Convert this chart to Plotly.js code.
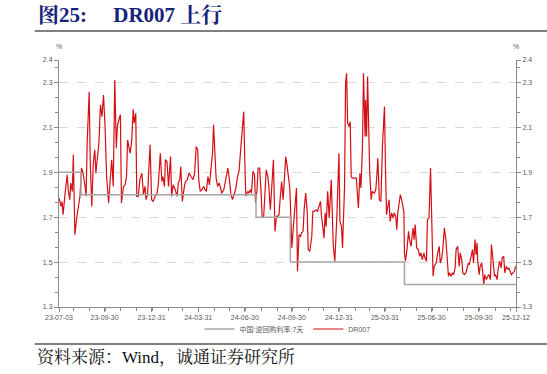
<!DOCTYPE html>
<html><head><meta charset="utf-8">
<script src="https://cdn.plot.ly/plotly-3.0.1.min.js"></script>
<style>html,body{margin:0;padding:0;background:#fff;}#chart{width:547px;height:374px;}</style>
</head><body><div id="chart"></div>
<script>
const drDates = [
"2023-07-03","2023-07-07","2023-07-09","2023-07-11","2023-07-15","2023-07-19","2023-07-21","2023-07-24","2023-07-26","2023-07-29","2023-07-31",
"2023-08-03","2023-08-07","2023-08-10","2023-08-13","2023-08-16","2023-08-19","2023-08-23","2023-08-25","2023-08-27","2023-08-31",
"2023-09-02","2023-09-05","2023-09-08","2023-09-11","2023-09-13","2023-09-16","2023-09-19","2023-09-22","2023-09-25","2023-09-28",
"2023-10-01","2023-10-04","2023-10-08","2023-10-11","2023-10-14","2023-10-17","2023-10-20","2023-10-23","2023-10-25","2023-10-27","2023-10-31",
"2023-11-02","2023-11-06","2023-11-09","2023-11-12","2023-11-14","2023-11-17","2023-11-19","2023-11-22","2023-11-25","2023-11-27","2023-11-30",
"2023-12-02","2023-12-05","2023-12-08","2023-12-12","2023-12-15","2023-12-18","2023-12-20","2023-12-23","2023-12-28","2023-12-31",
"2024-01-03","2024-01-07","2024-01-10","2024-01-13","2024-01-17","2024-01-20","2024-01-22","2024-01-25","2024-01-27","2024-01-30",
"2024-02-02","2024-02-06","2024-02-08","2024-02-11","2024-02-15","2024-02-19","2024-02-21","2024-02-24","2024-02-26","2024-02-29",
"2024-03-04","2024-03-06","2024-03-10","2024-03-13","2024-03-17","2024-03-21","2024-03-24","2024-03-27","2024-03-30",
"2024-04-01","2024-04-04","2024-04-07","2024-04-11","2024-04-13","2024-04-16","2024-04-19","2024-04-22","2024-04-25","2024-04-28","2024-04-30",
"2024-05-03","2024-05-05","2024-05-08","2024-05-11","2024-05-13","2024-05-16","2024-05-20","2024-05-22","2024-05-26","2024-05-28","2024-05-31",
"2024-06-03","2024-06-06","2024-06-10","2024-06-12","2024-06-16","2024-06-19","2024-06-23","2024-06-25","2024-06-28","2024-06-30",
"2024-07-02","2024-07-06","2024-07-08","2024-07-11","2024-07-13","2024-07-16","2024-07-19","2024-07-21","2024-07-24","2024-07-26","2024-07-29",
"2024-08-01","2024-08-03","2024-08-06","2024-08-09","2024-08-11","2024-08-14","2024-08-16","2024-08-19","2024-08-22","2024-08-25","2024-08-28","2024-08-31",
"2024-09-02","2024-09-05","2024-09-07","2024-09-10","2024-09-13","2024-09-15","2024-09-18","2024-09-20","2024-09-23","2024-09-26","2024-09-28","2024-09-30",
"2024-10-03","2024-10-06","2024-10-09","2024-10-11","2024-10-14","2024-10-17","2024-10-19","2024-10-22","2024-10-24","2024-10-27","2024-10-30",
"2024-11-01","2024-11-04","2024-11-08","2024-11-10","2024-11-13","2024-11-16","2024-11-19","2024-11-22","2024-11-25","2024-11-27","2024-11-30",
"2024-12-02","2024-12-04","2024-12-06","2024-12-09","2024-12-12","2024-12-16","2024-12-18","2024-12-20","2024-12-23","2024-12-27","2024-12-31",
"2025-01-02","2025-01-05","2025-01-07","2025-01-11","2025-01-13","2025-01-15","2025-01-17","2025-01-20","2025-01-22","2025-01-24","2025-01-26","2025-01-30",
"2025-02-03","2025-02-07","2025-02-10","2025-02-12","2025-02-15","2025-02-17","2025-02-20","2025-02-21","2025-02-23","2025-02-25","2025-02-27",
"2025-03-01","2025-03-04","2025-03-06","2025-03-10","2025-03-13","2025-03-15","2025-03-17","2025-03-20","2025-03-23","2025-03-26","2025-03-28","2025-03-30",
"2025-04-01","2025-04-03","2025-04-05","2025-04-08","2025-04-10","2025-04-13","2025-04-16","2025-04-18","2025-04-21","2025-04-23","2025-04-25","2025-04-27","2025-04-30",
"2025-05-04","2025-05-07","2025-05-08","2025-05-10","2025-05-13","2025-05-16","2025-05-18","2025-05-21","2025-05-23","2025-05-25","2025-05-27","2025-05-29",
"2025-06-01","2025-06-04","2025-06-07","2025-06-09","2025-06-12","2025-06-15","2025-06-17","2025-06-20","2025-06-22","2025-06-25","2025-06-28","2025-06-30",
"2025-07-03","2025-07-05","2025-07-09","2025-07-12","2025-07-15","2025-07-17","2025-07-20","2025-07-22","2025-07-25","2025-07-28","2025-07-30",
"2025-08-02","2025-08-04","2025-08-07","2025-08-10","2025-08-12","2025-08-15","2025-08-17","2025-08-20","2025-08-23","2025-08-25","2025-08-28","2025-08-30",
"2025-09-02","2025-09-05","2025-09-07","2025-09-10","2025-09-12","2025-09-15","2025-09-18","2025-09-20","2025-09-23","2025-09-25","2025-09-27","2025-09-28",
"2025-10-01","2025-10-03","2025-10-06","2025-10-08","2025-10-10","2025-10-12","2025-10-15","2025-10-18","2025-10-20","2025-10-23","2025-10-25","2025-10-28","2025-10-31",
"2025-11-02","2025-11-05","2025-11-07","2025-11-10","2025-11-13","2025-11-15","2025-11-18","2025-11-20","2025-11-23","2025-11-26","2025-11-28",
"2025-12-01","2025-12-03","2025-12-06","2025-12-09","2025-12-11","2025-12-12"
];
const drValues = [
1.785,1.748,1.770,1.711,1.807,1.889,1.822,1.778,1.852,1.815,1.978,
1.622,1.704,1.748,1.793,1.919,1.896,1.837,1.793,2.030,2.259,
1.956,1.748,1.941,2.000,1.896,1.956,2.030,2.200,2.148,2.244,
2.104,1.881,1.763,1.867,1.956,1.837,2.311,2.007,2.104,2.126,2.156,
1.763,1.837,1.844,1.881,2.044,2.015,1.985,2.037,2.181,2.119,2.163,
1.793,1.793,1.867,1.896,1.800,1.837,1.778,1.800,2.022,1.778,
1.770,1.793,1.800,1.844,1.985,1.859,1.881,1.837,1.956,1.948,
1.837,1.970,1.793,1.844,1.822,1.793,1.852,1.867,1.926,1.770,
1.837,1.859,1.867,1.896,1.881,1.867,1.896,2.015,2.000,
1.867,1.815,1.822,1.837,1.822,1.815,1.881,1.844,1.926,1.985,2.111,
2.000,1.874,1.837,1.852,1.837,1.807,1.822,1.844,1.889,1.919,1.867,
1.800,1.778,1.807,1.822,1.881,1.911,2.030,2.104,2.170,1.956,
1.793,1.815,1.807,1.822,1.807,1.904,1.889,1.763,1.822,1.919,1.919,
1.807,1.696,1.704,1.807,1.911,1.881,1.837,1.733,1.837,1.956,1.637,1.704,
1.704,1.711,1.778,1.859,1.778,1.852,1.970,1.941,1.896,1.830,1.704,1.563,
1.659,1.763,1.830,1.459,1.622,1.615,1.630,1.637,1.733,1.807,1.726,
1.556,1.548,1.615,1.726,1.726,1.733,1.726,1.748,1.770,1.704,1.622,
1.607,1.719,1.659,1.815,1.696,1.867,1.733,1.570,1.504,1.704,1.985,
1.681,1.659,1.563,1.837,2.296,2.341,2.119,2.104,2.126,1.881,1.874,1.874,
1.874,1.741,1.896,1.830,2.015,2.341,2.059,2.222,2.059,2.326,2.059,
1.911,1.778,1.815,1.807,1.822,1.881,1.963,1.778,1.770,2.015,2.089,2.193,
1.911,1.711,1.741,1.778,1.681,1.719,1.696,1.719,1.704,1.644,1.719,1.763,1.800,
1.763,1.719,1.541,1.504,1.556,1.637,1.600,1.570,1.615,1.652,1.600,1.667,
1.563,1.556,1.526,1.541,1.511,1.541,1.519,1.504,1.689,1.696,1.919,1.748,
1.437,1.481,1.496,1.541,1.570,1.496,1.519,1.556,1.652,1.600,1.511,
1.437,1.452,1.437,1.452,1.444,1.474,1.556,1.570,1.481,1.541,1.511,1.452,
1.444,1.452,1.474,1.496,1.489,1.526,1.556,1.496,1.600,1.533,1.585,1.511,
1.444,1.481,1.496,1.452,1.400,1.444,1.422,1.437,1.444,1.422,1.578,1.511,1.437,
1.444,1.422,1.467,1.504,1.474,1.519,1.526,1.452,1.481,1.467,1.474,
1.459,1.444,1.452,1.459,1.481,1.475
];
const rateDates = ["2023-07-03","2023-08-15","2024-07-22","2024-09-27","2025-05-08","2025-12-12"];
const rateValues = [1.9,1.8,1.7,1.5,1.4,1.4];
const rateName = "中国:逆回购利率:7天";
const drName = "DR007";
const xTickVals = ["2023-07-03","2023-09-30","2023-12-31","2024-03-31","2024-06-30","2024-09-30","2024-12-31","2025-03-31","2025-06-30","2025-09-30","2025-12-12"];
const xTickText = ["23-07-03","23-09-30","23-12-31","24-03-31","24-06-30","24-09-30","24-12-31","25-03-31","25-06-30","25-09-30","25-12-12"];
const yTickVals = [1.3,1.5,1.7,1.9,2.1,2.3,2.4];
const yTickText = ["1.3","1.5","1.7","1.9","2.1","2.3","2.4"];
const titleText = "图25:\u00a0\u00a0\u00a0\u00a0\u00a0DR007 上行";
const sourceText = "资料来源：Wind，诚通证券研究所";

const sans = "Liberation Sans, Arial, Noto Sans CJK SC, sans-serif";
const serif = "Liberation Serif, Times New Roman, Noto Serif CJK SC, Noto Sans CJK SC, serif";
const axisCol = "#8c8c8c";
const tickFont = {family: sans, size: 7, color: "#595959"};

const traces = [
  {x: rateDates, y: rateValues, name: rateName, type: "scatter", mode: "lines",
   line: {color: "#a6a6a6", width: 1.5, shape: "hv"}, yaxis: "y2", hoverinfo: "skip"},
  {x: drDates, y: drValues, name: drName, type: "scatter", mode: "lines",
   line: {color: "#d40f14", width: 1.2}, yaxis: "y", hoverinfo: "skip"}
];

const yBase = {
  range: [1.3, 2.4], tickmode: "array", tickvals: yTickVals, ticktext: yTickText,
  showline: true, linecolor: axisCol, linewidth: 1, ticks: "outside", ticklen: 4,
  tickcolor: axisCol, tickfont: tickFont, zeroline: false, fixedrange: true,
  minor: {tick0: 1.3, dtick: 0.2/3, ticks: "outside", ticklen: 3, tickcolor: axisCol, showgrid: false}
};

const layout = {
  width: 547, height: 374,
  margin: {l: 59, r: 31, t: 60, b: 67, pad: 0},
  paper_bgcolor: "#ffffff", plot_bgcolor: "#ffffff",
  showlegend: true,
  legend: {orientation: "h", x: 0.5, xanchor: "center", y: -0.089, yanchor: "middle",
           font: {family: sans, size: 7, color: "#595959"}, itemwidth: 30, bgcolor: "rgba(0,0,0,0)"},
  xaxis: {
    type: "date", range: ["2023-07-03", "2025-12-12"], tickmode: "array",
    tickvals: xTickVals, ticktext: xTickText, showgrid: false, showline: true,
    linecolor: axisCol, linewidth: 1, ticks: "outside", ticklen: 4, tickcolor: axisCol,
    tickfont: tickFont, tickangle: 0, zeroline: false, fixedrange: true,
    minor: {tick0: "2023-08-01", dtick: "M1", ticks: "outside", ticklen: 3, tickcolor: axisCol, showgrid: false}
  },
  yaxis: Object.assign({}, yBase, {side: "left", showgrid: true, gridcolor: "#d9d9d9", griddash: "dash", gridwidth: 1}),
  yaxis2: Object.assign({}, yBase, {side: "right", overlaying: "y", showgrid: false}),
  shapes: [
    {type: "line", xref: "paper", yref: "paper", x0: -0.053, x1: 1.07, y0: 1.117, y1: 1.117,
     line: {color: "#808080", width: 2}},
    {type: "line", xref: "paper", yref: "paper", x0: -0.053, x1: 1.07, y0: -0.15, y1: -0.15,
     line: {color: "#808080", width: 2}}
  ],
  annotations: [
    {text: "<b>" + titleText + "</b>", xref: "paper", yref: "paper", x: -0.0503, y: 1.182,
     xanchor: "left", yanchor: "middle", showarrow: false,
     font: {family: serif, size: 21, color: "#16237c"}},
    {text: sourceText, xref: "paper", yref: "paper", x: -0.0525, y: -0.206,
     xanchor: "left", yanchor: "middle", showarrow: false,
     font: {family: serif, size: 17, color: "#111111"}},
    {text: "%", xref: "paper", yref: "paper", x: 0, y: 1.053, xanchor: "center", yanchor: "middle",
     showarrow: false, font: {family: sans, size: 7, color: "#595959"}},
    {text: "%", xref: "paper", yref: "paper", x: 1, y: 1.053, xanchor: "center", yanchor: "middle",
     showarrow: false, font: {family: sans, size: 7, color: "#595959"}}
  ]
};

Plotly.newPlot("chart", traces, layout, {displayModeBar: false, staticPlot: true});
</script>
</body></html>
